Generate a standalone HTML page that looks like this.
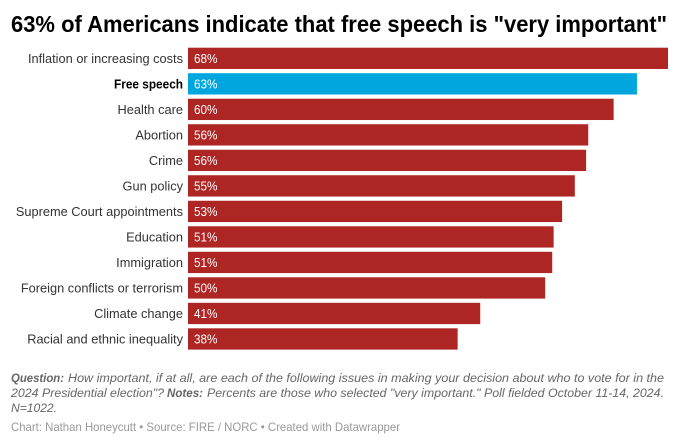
<!DOCTYPE html>
<html>
<head>
<meta charset="utf-8">
<style>
html,body{margin:0;padding:0;background:#fff;}
svg{display:block;}
text{font-family:"Liberation Sans",sans-serif;}
</style>
</head>
<body>
<svg id="chart" width="680" height="445" viewBox="0 0 680 445" xmlns="http://www.w3.org/2000/svg">
<rect width="680" height="445" fill="#fff"/>
<text x="11" y="32" font-size="23" font-weight="700" fill="#000" textLength="656" lengthAdjust="spacingAndGlyphs">63% of Americans indicate that free speech is "very important"</text>
<g id="bars"></g>
<g font-size="12.4" font-style="italic" fill="#666">
<text x="11" y="382" font-weight="700" textLength="53" lengthAdjust="spacingAndGlyphs">Question:</text>
<text x="68" y="382" textLength="596" lengthAdjust="spacingAndGlyphs">How important, if at all, are each of the following issues in making your decision about who to vote for in the</text>
<text x="11" y="397" textLength="153" lengthAdjust="spacingAndGlyphs">2024 Presidential election"?</text>
<text x="167" y="397" font-weight="700" textLength="36" lengthAdjust="spacingAndGlyphs">Notes:</text>
<text x="207" y="397" textLength="457" lengthAdjust="spacingAndGlyphs">Percents are those who selected "very important." Poll fielded October 11-14, 2024.</text>
<text x="11" y="412" textLength="46" lengthAdjust="spacingAndGlyphs">N=1022.</text>
</g>
<text x="11" y="431" font-size="12" fill="#999" textLength="389" lengthAdjust="spacingAndGlyphs">Chart: Nathan Honeycutt • Source: FIRE / NORC • Created with Datawrapper</text>
</svg>
<script>
var categories = ["Inflation or increasing costs","Free speech","Health care","Abortion","Crime","Gun policy","Supreme Court appointments","Education","Immigration","Foreign conflicts or terrorism","Climate change","Racial and ethnic inequality"];
var values = [68,63.6,60.3,56.7,56.4,54.8,53,51.8,51.6,50.6,41.4,38.2];
var printedValues = ["68%","63%","60%","56%","56%","55%","53%","51%","51%","50%","41%","38%"];
var highlighted = ["Free speech"];

var NS = "http://www.w3.org/2000/svg";
var root = document.getElementById("bars");
function xScale(v){ return 188 + v * (480 / 68); }
function yScale(i){ return 47.7 + i * 25.51; }
var barH = 21.3;
categories.forEach(function(cat, i){
  var isHi = highlighted.indexOf(cat) >= 0;
  var y = yScale(i);
  var slug = cat.toLowerCase().replace(/[^a-z]+/g, "-");

  var label = document.createElementNS(NS, "text");
  
  
  label.setAttribute("x", 183);
  label.setAttribute("y", y + 15.4);
  label.setAttribute("text-anchor", "end");
  label.setAttribute("font-size", "12.8");
  label.setAttribute("fill", isHi ? "#000" : "#333");
  if (isHi) {
    label.setAttribute("font-weight", "700");
    label.setAttribute("textLength", "69");
    label.setAttribute("lengthAdjust", "spacingAndGlyphs");
  }
  label.textContent = cat;
  root.appendChild(label);

  var bar = document.createElementNS(NS, "rect");
  
  
  bar.setAttribute("x", xScale(0));
  bar.setAttribute("y", y);
  bar.setAttribute("width", xScale(values[i]) - xScale(0));
  bar.setAttribute("height", barH);
  bar.setAttribute("fill", isHi ? "#00a6dd" : "#ad2624");
  root.appendChild(bar);

  var val = document.createElementNS(NS, "text");
  
  
  val.setAttribute("x", 194);
  val.setAttribute("y", y + 15.4);
  val.setAttribute("font-size", "12.8");
  val.setAttribute("fill", "#fff");
  val.setAttribute("textLength", "23.5");
  val.setAttribute("lengthAdjust", "spacingAndGlyphs");
  val.textContent = printedValues[i];
  root.appendChild(val);
});
</script>
</body>
</html>
